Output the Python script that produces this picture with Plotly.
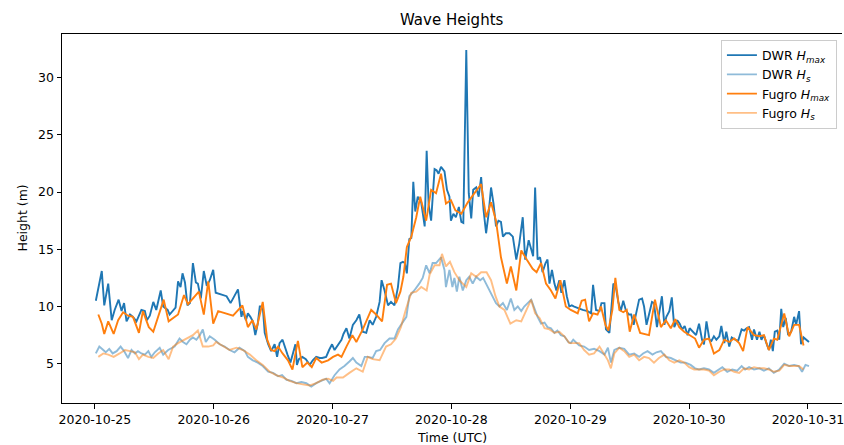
import pandas as pd
import plotly.graph_objects as go

START = pd.Timestamp("2020-10-25 00:00")

# ---- DWR H_max (hours since 2020-10-25 00:00 UTC, metres) ----
dwr_hmax_hours = [0.2,1.4,1.9,2.7,3.4,4.0,4.8,5.4,5.9,6.4,7.1,7.7,8.4,9.4,10.1,10.5,11.1,11.8,12.4,13.3,13.8,14.7,15.1,15.8,16.3,16.8,17.3,17.7,18.2,18.7,19.2,19.8,20.4,20.8,21.4,22.0,22.6,23.2,23.9,24.4,26.6,27.4,28.2,28.9,29.6,29.9,30.5,30.9,31.4,31.9,32.4,32.9,33.3,33.9,34.3,35.0,35.6,36.3,36.8,37.3,37.9,38.3,38.9,39.5,40.0,40.5,40.8,41.2,41.9,42.6,43.4,44.0,44.7,45.4,45.9,46.7,47.3,47.9,48.4,48.9,49.8,50.2,50.8,51.4,52.1,52.8,53.4,54.1,54.8,55.5,56.1,56.8,57.5,57.9,58.5,59.2,59.8,60.5,61.2,61.7,62.2,62.6,63.0,63.5,63.9,64.3,64.7,65.2,65.9,66.6,67.0,67.4,67.9,68.6,69.0,69.4,69.9,70.6,71.1,71.6,71.9,72.4,72.9,73.5,74.0,74.4,75.0,75.5,76.0,76.4,77.0,77.5,78.0,78.5,79.0,79.5,80.0,80.5,81.0,81.5,82.0,82.4,83.0,83.7,84.4,85.1,85.7,86.4,86.9,87.6,88.1,88.5,88.9,89.4,89.9,90.4,91.0,91.4,91.8,92.3,92.8,93.2,93.8,94.2,94.8,95.3,95.8,96.3,96.8,97.8,98.5,99.5,100.2,100.6,101.2,101.9,102.3,102.9,103.2,103.9,104.4,104.7,105.2,105.7,106.2,106.7,107.2,107.8,108.3,108.8,109.3,109.9,110.5,110.9,111.4,111.9,112.5,112.9,113.5,113.9,114.5,115.0,115.4,116.0,116.5,117.0,117.6,118.1,118.6,119.1,119.7,120.1,120.7,121.4,122.0,122.6,123.0,123.5,124.1,124.5,125.0,125.5,126.1,126.5,127.1,127.5,128.1,128.6,129.3,129.9,130.6,131.1,131.6,132.1,132.7,133.1,133.7,134.2,134.6,135.1,135.6,136.1,136.5,136.9,137.3,137.8,138.2,138.6,139.0,139.5,140.0,140.6,141.2,141.6,142.2,142.6,143.1,143.7,144.2]
dwr_hmax = [10.5,13.1,10.1,12.0,8.8,9.7,10.6,9.6,10.3,8.7,9.3,9.1,8.7,9.7,9.6,8.8,9.2,10.4,9.7,11.4,10.0,9.7,9.3,9.7,9.9,12.2,11.7,12.9,12.1,10.1,10.3,13.8,12.1,12.0,10.7,13.1,11.8,12.3,13.2,11.2,10.9,10.3,10.9,11.5,9.1,9.6,8.8,9.4,9.1,8.7,7.5,8.5,10.0,10.0,7.7,6.7,6.1,6.7,5.6,6.8,7.1,6.5,5.8,5.1,5.9,6.7,4.9,5.4,5.6,5.4,4.9,5.3,5.6,5.5,5.5,5.6,6.2,6.7,6.2,6.5,7.1,7.6,8.1,7.2,8.4,8.8,9.3,7.8,7.7,8.8,8.4,9.1,10.4,12.3,11.4,10.1,10.4,10.1,11.7,13.8,13.9,13.8,12.9,15.9,16.0,20.9,18.3,19.6,19.1,17.0,23.6,18.9,17.5,22.0,21.9,21.6,22.2,21.8,20.2,19.6,17.5,18.1,17.8,18.7,17.4,17.3,32.4,19.9,17.7,20.2,20.4,19.6,21.3,18.4,16.4,18.1,20.4,19.0,17.0,17.5,17.4,16.1,16.4,16.4,16.1,14.1,15.5,17.8,14.1,15.8,14.9,14.4,20.4,14.1,14.3,13.0,13.8,14.1,12.0,13.2,12.0,11.4,12.3,11.2,12.3,10.9,10.0,10.1,10.0,9.8,9.7,9.6,9.4,11.9,9.7,9.6,10.3,10.3,8.0,7.7,10.0,12.0,11.7,10.4,9.6,10.5,9.7,9.3,9.3,8.4,9.4,10.6,10.7,10.0,8.4,9.4,10.4,10.3,8.2,9.3,10.9,8.4,9.1,9.6,10.8,8.2,8.8,8.5,8.0,8.3,7.5,8.1,7.8,7.5,8.5,7.1,6.7,8.7,7.1,7.0,7.4,7.1,7.4,8.3,6.8,7.8,6.5,7.3,7.1,7.0,8.0,7.9,8.1,8.2,7.1,8.0,7.1,7.8,7.1,7.5,6.8,6.2,7.1,6.1,7.8,7.9,7.1,9.8,8.2,9.0,7.5,7.8,9.1,8.4,9.6,6.7,7.3,7.1,6.9]

# ---- DWR H_s ----
dwr_hs_hours = [0.2,0.9,1.7,2.2,2.9,3.6,4.4,5.2,5.9,6.7,7.4,8.1,8.7,9.4,10.1,10.8,11.4,12.1,13.1,13.8,14.8,15.5,16.1,17.1,17.8,18.5,19.2,19.8,20.5,21.2,21.8,22.4,23.2,24.2,25.2,26.2,27.2,28.2,29.2,30.3,30.9,31.9,32.9,33.9,35.0,36.0,37.0,37.8,38.7,39.7,40.7,41.7,42.7,43.7,44.7,45.7,46.7,47.4,48.4,49.4,50.4,51.4,52.1,52.8,53.8,54.5,55.1,56.1,56.8,57.6,58.5,59.5,60.5,61.2,62.2,62.9,63.5,64.5,65.5,66.2,66.9,67.6,68.2,68.9,69.9,70.6,70.9,71.6,72.2,72.6,73.1,73.6,74.3,75.0,75.6,76.3,77.0,77.8,78.4,79.0,79.7,80.3,81.0,81.7,82.4,83.2,84.0,84.7,85.4,86.1,86.7,87.4,88.1,88.7,89.4,90.1,90.8,91.4,92.1,92.8,93.4,94.1,94.8,95.6,96.1,96.6,97.8,98.8,99.8,100.8,101.9,102.9,103.6,104.2,104.9,105.9,106.9,107.9,108.9,109.9,110.7,111.6,112.6,113.4,114.3,115.3,116.3,117.3,118.3,119.3,120.3,121.2,122.0,123.0,124.0,125.0,126.1,126.7,127.7,128.7,129.7,130.6,131.3,132.1,133.1,134.2,135.1,136.1,137.1,138.2,139.2,140.2,141.2,142.1,142.8,143.5,144.2]
dwr_hs = [5.9,6.5,6.2,6.0,6.3,5.9,6.1,6.5,6.1,5.5,6.2,5.9,6.1,5.9,5.8,6.1,5.6,6.0,6.4,5.8,6.2,6.4,6.5,7.2,6.9,6.7,7.1,7.3,7.1,7.5,8.0,6.9,7.4,7.1,6.7,6.5,6.2,6.0,6.4,6.1,5.6,5.3,5.1,4.8,4.3,4.2,3.9,4.0,3.6,3.5,3.3,3.4,3.3,3.0,3.3,3.5,3.7,3.3,4.0,4.5,4.8,5.2,5.5,5.1,4.8,5.6,5.6,5.5,6.1,6.2,6.8,7.2,7.2,8.0,8.7,9.1,10.9,11.4,12.0,12.5,13.6,12.9,13.8,13.8,14.3,13.2,11.7,13.2,11.7,12.5,11.3,12.6,11.4,12.3,12.6,12.0,12.6,12.3,12.5,12.0,11.4,10.9,10.3,10.0,10.3,9.7,10.7,9.7,10.0,9.6,10.0,10.3,10.6,9.9,9.1,8.5,8.6,8.2,8.1,7.7,7.9,7.5,7.4,6.9,6.8,7.1,6.6,6.5,6.2,6.3,6.1,5.8,6.4,5.1,6.2,6.4,6.3,5.8,5.9,5.6,5.9,6.1,5.8,6.0,6.1,5.6,5.5,5.3,5.1,5.1,4.9,4.6,4.5,4.6,4.5,4.2,4.5,4.7,4.3,4.5,4.4,4.8,4.5,4.7,4.5,4.6,4.4,4.6,4.2,4.5,5.0,4.8,4.9,4.8,4.3,4.9,4.8]

# ---- Fugro H_max ----
fugro_hmax_hours = [0.7,1.4,1.9,2.7,3.8,4.7,5.7,6.7,7.7,8.9,9.7,10.9,11.8,12.8,13.9,14.9,15.8,16.8,18.0,18.8,21.0,22.0,22.9,23.9,24.9,27.9,29.8,30.9,31.8,32.6,33.9,34.8,35.6,36.3,37.0,37.9,39.0,39.9,41.0,41.9,42.9,43.8,44.7,45.8,47.1,48.1,49.1,49.8,50.8,52.0,52.8,54.1,55.8,56.8,58.0,59.0,59.8,60.8,61.7,62.3,63.0,63.9,64.9,65.7,66.9,67.9,68.9,69.9,70.9,71.9,72.8,74.0,75.3,78.0,79.0,80.0,81.0,82.0,83.2,84.0,85.1,86.1,87.2,88.4,89.2,90.1,91.1,92.1,93.0,94.0,95.1,96.1,97.5,98.3,99.0,99.8,100.6,101.5,102.2,103.1,103.7,104.5,105.1,105.9,106.7,107.4,108.0,108.9,110.1,111.9,113.1,114.3,115.3,116.3,117.2,118.0,119.0,120.0,121.2,122.0,123.0,124.0,125.0,126.1,127.1,128.1,129.1,130.1,130.9,131.8,133.1,134.2,135.1,136.1,137.1,137.8,139.2,140.2,141.2,142.2,143.1]
fugro_hmax = [9.3,8.5,7.6,8.7,7.6,8.8,9.5,9.2,9.1,7.7,9.6,8.2,7.8,9.1,10.6,8.7,9.0,9.3,11.0,10.2,11.3,9.3,12.2,8.5,9.6,9.2,10.1,8.2,8.8,8.0,10.4,7.1,6.2,6.1,6.5,5.9,5.3,4.5,7.0,4.7,5.1,4.7,5.5,5.1,5.3,5.6,5.8,5.6,6.5,7.5,6.9,8.0,9.7,9.3,8.7,11.9,12.0,10.3,11.3,12.6,15.2,16.1,17.8,19.6,17.5,20.2,19.9,21.6,19.0,19.3,18.4,18.1,19.1,20.7,17.8,19.1,17.5,14.3,12.0,13.5,11.4,14.9,14.1,13.3,13.0,13.8,12.0,11.4,10.7,12.3,10.0,9.7,9.4,10.5,10.6,8.7,9.4,9.3,10.0,8.4,7.9,9.7,12.5,9.7,9.5,9.7,7.8,9.3,7.7,7.5,10.6,8.2,8.8,8.1,8.9,8.2,7.8,7.5,7.2,6.4,7.1,7.2,5.9,6.2,7.1,6.9,7.2,6.8,6.1,8.2,7.5,7.4,7.5,6.2,7.2,7.1,9.4,7.4,8.4,8.4,6.6]

# ---- Fugro H_s ----
fugro_hs_hours = [0.7,1.7,2.7,3.8,5.0,6.1,7.1,8.1,8.9,9.7,10.8,11.8,12.8,13.8,14.9,15.8,16.8,18.0,18.9,19.8,20.8,21.8,22.9,23.9,24.5,25.9,27.2,28.6,29.9,31.3,32.6,33.9,35.3,36.6,38.0,39.3,40.7,42.0,43.4,44.7,46.0,47.1,48.1,48.8,50.1,51.4,52.8,54.1,55.1,56.1,57.5,58.8,59.8,60.8,61.8,62.9,63.9,64.9,65.9,67.0,67.6,68.6,69.6,70.1,70.9,71.7,72.6,73.6,75.0,76.0,77.0,78.0,79.1,80.0,80.9,81.7,82.7,83.9,85.1,86.1,87.1,88.1,88.9,89.8,90.8,91.8,92.8,93.8,94.8,95.8,96.8,97.8,98.8,99.8,100.8,101.9,102.9,103.6,104.2,104.9,105.9,106.9,107.9,108.9,109.9,110.9,111.9,112.9,113.9,115.0,116.0,117.0,118.0,119.0,120.0,121.0,122.0,123.0,124.0,125.0,126.1,127.1,128.1,129.1,130.1,131.1,132.1,133.1,134.2,135.1,136.1,137.1,138.2,139.2,140.2,141.2,142.2,143.1]
fugro_hs = [5.6,5.9,5.8,5.6,5.9,6.2,6.1,6.0,5.4,5.8,5.6,5.5,5.9,6.2,5.4,6.5,6.8,7.1,7.3,7.5,7.9,6.5,6.5,6.6,6.9,6.5,6.2,6.4,6.2,5.8,5.3,4.9,4.3,4.0,3.8,3.5,3.3,3.2,3.1,3.3,3.6,3.7,3.5,3.8,3.8,4.2,4.6,4.3,5.6,5.4,5.3,6.5,6.7,7.2,8.2,9.9,11.2,11.3,11.7,11.4,12.8,13.6,13.6,14.6,13.5,13.9,13.0,12.3,11.7,12.9,12.6,13.0,13.0,12.3,10.9,10.0,9.7,8.5,8.8,8.7,9.7,10.6,9.4,9.0,8.1,8.0,7.7,7.8,7.4,6.8,6.8,6.8,6.2,5.8,5.9,6.5,5.8,5.3,4.6,5.9,6.4,6.1,5.6,5.8,5.3,5.6,5.5,5.1,5.5,5.8,5.3,5.1,5.3,5.1,4.7,4.5,4.5,4.5,4.4,4.0,4.3,4.5,4.5,4.3,4.2,4.6,4.5,4.7,4.6,4.6,4.5,4.3,4.4,4.9,4.8,4.8,4.8,4.5]

series_names = ["DWR <i>H</i><sub><i>max</i></sub>", "DWR <i>H</i><sub><i>s</i></sub>",
                "Fugro <i>H</i><sub><i>max</i></sub>", "Fugro <i>H</i><sub><i>s</i></sub>"]
tick_dates = ["2020-10-25", "2020-10-26", "2020-10-27", "2020-10-28",
              "2020-10-29", "2020-10-30", "2020-10-31"]
y_ticks = [5, 10, 15, 20, 25, 30]


def to_time(hours):
    return START + pd.to_timedelta(hours, unit="h")


series = [
    (dwr_hmax_hours, dwr_hmax, "#1f77b4"),
    (dwr_hs_hours, dwr_hs, "rgba(31,119,180,0.5)"),
    (fugro_hmax_hours, fugro_hmax, "#ff7f0e"),
    (fugro_hs_hours, fugro_hs, "rgba(255,127,14,0.5)"),
]

FONT = "DejaVu Sans"
fig = go.Figure()
for (h, v, c), name in zip(series, series_names):
    fig.add_trace(go.Scatter(x=to_time(h), y=v, mode="lines", name=name,
                             line=dict(color=c, width=1.9)))

fig.update_layout(
    width=844, height=445,
    margin=dict(l=62, r=0, t=34, b=42),
    paper_bgcolor="white", plot_bgcolor="white",
    font=dict(family=FONT, size=12.5, color="black"),
    showlegend=True,
    legend=dict(x=0.9935, y=0.985, xanchor="right", yanchor="top",
                bgcolor="rgba(255,255,255,0.8)", bordercolor="#cccccc",
                borderwidth=1, font=dict(family=FONT, size=12.5),
                itemwidth=30, tracegroupgap=0),
    annotations=[
        dict(text="Wave Heights", xref="paper", yref="paper", x=0.5, y=1,
             yshift=14, showarrow=False, font=dict(size=15, family=FONT),
             xanchor="center", yanchor="middle"),
        dict(text="Time (UTC)", xref="paper", yref="paper", x=0.5, y=0,
             yshift=-34, showarrow=False, font=dict(size=12.5, family=FONT),
             xanchor="center", yanchor="middle"),
        dict(text="Height (m)", xref="paper", yref="paper", x=0, y=0.5,
             xshift=-40, showarrow=False, textangle=-90,
             font=dict(size=12.5, family=FONT),
             xanchor="center", yanchor="middle"),
    ],
)

fig.update_xaxes(
    type="date",
    range=["2020-10-24 17:22", "2020-10-31 06:52"],
    tickvals=tick_dates, ticktext=tick_dates,
    ticklabeloverflow="allow",
    showgrid=False, zeroline=False,
    showline=True, linecolor="black", linewidth=1, mirror=True,
    ticks="outside", ticklen=4.5, tickwidth=1, tickcolor="black",
)
fig.update_yaxes(
    range=[1.57, 33.81],
    tickvals=y_ticks,
    showgrid=False, zeroline=False,
    showline=True, linecolor="black", linewidth=1, mirror=False,
    ticks="outside", ticklen=4.5, tickwidth=1, tickcolor="black",
)

fig.write_html("out.html")
